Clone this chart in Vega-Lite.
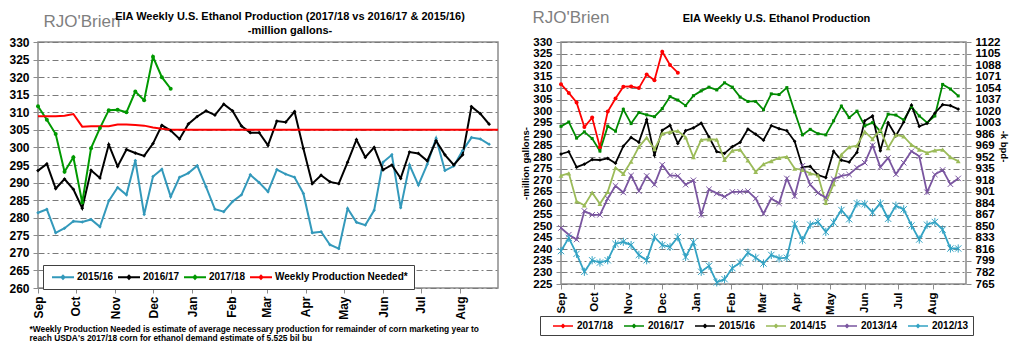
{
  "$schema": "https://vega.github.io/schema/vega-lite/v6.json",
  "background": "white",
  "padding": {"left": 8, "top": 7, "right": 0, "bottom": 0},
  "spacing": 17,
  "config": {
    "font": "Liberation Sans",
    "view": {"stroke": "#8c8c8c", "strokeWidth": 1.5},
    "axis": {"labelFont": "Liberation Sans", "labelFontWeight": "bold", "labelFontSize": 12, "labelColor": "#000", "titleFont": "Liberation Sans", "titleFontWeight": "bold", "titleFontSize": 9.5, "titleColor": "#000", "tickColor": "#8c8c8c", "domain": false, "labelFlush": false, "labelOverlap": false, "labelLimit": 400},
    "legend": {"labelFont": "Liberation Sans", "labelFontWeight": "bold", "labelFontSize": 10, "labelColor": "#000", "strokeColor": "#404040", "fillColor": "white", "cornerRadius": 0, "direction": "horizontal", "labelLimit": 300},
    "title": {"font": "Liberation Sans", "fontSize": 11, "fontWeight": "bold", "color": "#000", "anchor": "middle", "frame": "group"}
  },
  "datasets": {
    "w": [
      {"d": "2017-09-01", "2012/13": 239.3, "2013/14": 249.3, "2014/15": 272.0, "2015/16": 281.4, "2016/17": 293.4, "2017/18": 311.7, "Weekly Production Needed*": 308.9},
      {"d": "2017-09-08", "2012/13": 245.0, "2013/14": 246.4, "2014/15": 273.0, "2015/16": 282.4, "2016/17": 295.3, "2017/18": 307.9, "Weekly Production Needed*": 308.9},
      {"d": "2017-09-15", "2012/13": 238.1, "2013/14": 244.3, "2014/15": 260.9, "2015/16": 275.7, "2016/17": 288.3, "2017/18": 303.8, "Weekly Production Needed*": 308.9},
      {"d": "2017-09-22", "2012/13": 230.3, "2013/14": 256.7, "2014/15": 259.1, "2015/16": 277.0, "2016/17": 291.0, "2017/18": 293.1, "Weekly Production Needed*": 309.0},
      {"d": "2017-09-29", "2012/13": 235.3, "2013/14": 255.0, "2014/15": 264.6, "2015/16": 279.0, "2016/17": 288.1, "2017/18": 297.2, "Weekly Production Needed*": 309.5},
      {"d": "2017-10-06", "2012/13": 234.3, "2013/14": 255.0, "2014/15": 259.8, "2015/16": 278.8, "2016/17": 282.7, "2017/18": 284.3, "Weekly Production Needed*": 305.9},
      {"d": "2017-10-13", "2012/13": 235.3, "2013/14": 262.1, "2014/15": 265.0, "2015/16": 279.5, "2016/17": 293.5, "2017/18": 299.8, "Weekly Production Needed*": 306.0},
      {"d": "2017-10-20", "2012/13": 242.4, "2013/14": 267.6, "2014/15": 275.4, "2015/16": 277.4, "2016/17": 291.3, "2017/18": 305.5, "Weekly Production Needed*": 306.0},
      {"d": "2017-10-27", "2012/13": 243.3, "2013/14": 264.7, "2014/15": 272.8, "2015/16": 284.8, "2016/17": 300.8, "2017/18": 310.6, "Weekly Production Needed*": 306.0},
      {"d": "2017-11-03", "2012/13": 241.9, "2013/14": 272.1, "2014/15": 278.1, "2015/16": 288.6, "2016/17": 294.6, "2017/18": 310.7, "Weekly Production Needed*": 306.5},
      {"d": "2017-11-10", "2012/13": 237.6, "2013/14": 265.3, "2014/15": 284.5, "2015/16": 286.5, "2016/17": 299.4, "2017/18": 310.0, "Weekly Production Needed*": 306.5},
      {"d": "2017-11-17", "2012/13": 235.3, "2013/14": 271.9, "2014/15": 288.5, "2015/16": 296.3, "2016/17": 298.4, "2017/18": 315.9, "Weekly Production Needed*": 306.4},
      {"d": "2017-11-24", "2012/13": 245.3, "2013/14": 268.1, "2014/15": 283.5, "2015/16": 280.9, "2016/17": 297.6, "2017/18": 313.4, "Weekly Production Needed*": 306.2},
      {"d": "2017-12-01", "2012/13": 241.9, "2013/14": 276.7, "2014/15": 290.2, "2015/16": 291.7, "2016/17": 301.1, "2017/18": 325.8, "Weekly Production Needed*": 305.7},
      {"d": "2017-12-08", "2012/13": 241.1, "2013/14": 272.1, "2014/15": 291.0, "2015/16": 293.8, "2016/17": 306.3, "2017/18": 320.0, "Weekly Production Needed*": 305.3},
      {"d": "2017-12-15", "2012/13": 245.3, "2013/14": 271.9, "2014/15": 291.4, "2015/16": 286.0, "2016/17": 304.8, "2017/18": 316.7, "Weekly Production Needed*": 305.0},
      {"d": "2017-12-22", "2012/13": 236.7, "2013/14": 268.1, "2014/15": 288.6, "2015/16": 291.5, "2016/17": 302.4, "Weekly Production Needed*": 305.0},
      {"d": "2017-12-29", "2012/13": 243.1, "2013/14": 270.0, "2014/15": 280.0, "2015/16": 292.7, "2016/17": 306.7, "Weekly Production Needed*": 305.0},
      {"d": "2018-01-05", "2012/13": 230.3, "2013/14": 255.0, "2014/15": 287.5, "2015/16": 294.8, "2016/17": 308.8, "Weekly Production Needed*": 305.0},
      {"d": "2018-01-12", "2012/13": 232.9, "2013/14": 266.1, "2014/15": 287.8, "2015/16": 288.8, "2016/17": 310.4, "Weekly Production Needed*": 305.0},
      {"d": "2018-01-19", "2012/13": 225.7, "2013/14": 264.3, "2014/15": 287.6, "2015/16": 282.4, "2016/17": 309.2, "Weekly Production Needed*": 305.0},
      {"d": "2018-01-26", "2012/13": 227.1, "2013/14": 262.9, "2014/15": 278.8, "2015/16": 281.7, "2016/17": 312.3, "Weekly Production Needed*": 305.0},
      {"d": "2018-02-02", "2012/13": 231.9, "2013/14": 265.0, "2014/15": 282.9, "2015/16": 284.6, "2016/17": 310.4, "Weekly Production Needed*": 305.0},
      {"d": "2018-02-09", "2012/13": 234.3, "2013/14": 265.0, "2014/15": 283.3, "2015/16": 286.5, "2016/17": 306.1, "Weekly Production Needed*": 305.0},
      {"d": "2018-02-16", "2012/13": 238.6, "2013/14": 265.3, "2014/15": 278.6, "2015/16": 292.2, "2016/17": 304.2, "Weekly Production Needed*": 305.0},
      {"d": "2018-02-23", "2012/13": 236.4, "2013/14": 262.1, "2014/15": 273.7, "2015/16": 290.0, "2016/17": 304.2, "Weekly Production Needed*": 305.0},
      {"d": "2018-03-02", "2012/13": 233.9, "2013/14": 255.5, "2014/15": 277.0, "2015/16": 287.4, "2016/17": 300.6, "Weekly Production Needed*": 305.0},
      {"d": "2018-03-09", "2012/13": 237.6, "2013/14": 262.1, "2014/15": 278.3, "2015/16": 293.7, "2016/17": 307.5, "Weekly Production Needed*": 305.0},
      {"d": "2018-03-16", "2012/13": 236.1, "2013/14": 260.0, "2014/15": 279.7, "2015/16": 292.4, "2016/17": 307.2, "Weekly Production Needed*": 305.0},
      {"d": "2018-03-23", "2012/13": 236.4, "2013/14": 270.8, "2014/15": 280.2, "2015/16": 291.5, "2016/17": 310.2, "Weekly Production Needed*": 305.0},
      {"d": "2018-03-30", "2012/13": 251.0, "2013/14": 263.1, "2014/15": 275.1, "2015/16": 286.9, "2016/17": 299.7, "Weekly Production Needed*": 305.0},
      {"d": "2018-04-06", "2012/13": 244.0, "2013/14": 276.3, "2014/15": 274.5, "2015/16": 275.7, "2016/17": 289.7, "Weekly Production Needed*": 305.0},
      {"d": "2018-04-13", "2012/13": 250.7, "2013/14": 268.1, "2014/15": 273.0, "2015/16": 276.0, "2016/17": 292.1, "Weekly Production Needed*": 305.0},
      {"d": "2018-04-20", "2012/13": 251.9, "2013/14": 264.5, "2014/15": 272.1, "2015/16": 272.3, "2016/17": 290.2, "Weekly Production Needed*": 305.0},
      {"d": "2018-04-27", "2012/13": 247.6, "2013/14": 262.4, "2014/15": 260.2, "2015/16": 271.2, "2016/17": 289.7, "Weekly Production Needed*": 305.0},
      {"d": "2018-05-04", "2012/13": 251.7, "2013/14": 270.5, "2014/15": 268.3, "2015/16": 282.6, "2016/17": 295.8, "Weekly Production Needed*": 305.0},
      {"d": "2018-05-11", "2012/13": 257.1, "2013/14": 271.9, "2014/15": 281.1, "2015/16": 278.7, "2016/17": 302.2, "Weekly Production Needed*": 305.0},
      {"d": "2018-05-18", "2012/13": 253.1, "2013/14": 272.5, "2014/15": 284.4, "2015/16": 277.9, "2016/17": 297.2, "Weekly Production Needed*": 305.0},
      {"d": "2018-05-25", "2012/13": 260.0, "2013/14": 275.5, "2014/15": 285.0, "2015/16": 282.1, "2016/17": 300.0, "Weekly Production Needed*": 305.0},
      {"d": "2018-06-01", "2012/13": 259.7, "2013/14": 277.6, "2014/15": 291.1, "2015/16": 295.8, "2016/17": 293.6, "Weekly Production Needed*": 305.0},
      {"d": "2018-06-08", "2012/13": 256.1, "2013/14": 285.2, "2014/15": 287.9, "2015/16": 297.9, "2016/17": 295.0, "Weekly Production Needed*": 305.0},
      {"d": "2018-06-15", "2012/13": 260.0, "2013/14": 275.7, "2014/15": 291.9, "2015/16": 282.8, "2016/17": 291.2, "Weekly Production Needed*": 305.0},
      {"d": "2018-06-22", "2012/13": 253.3, "2013/14": 279.7, "2014/15": 284.0, "2015/16": 295.0, "2016/17": 298.7, "Weekly Production Needed*": 305.0},
      {"d": "2018-06-29", "2012/13": 259.0, "2013/14": 272.6, "2014/15": 289.7, "2015/16": 289.3, "2016/17": 298.3, "Weekly Production Needed*": 305.0},
      {"d": "2018-07-06", "2012/13": 257.4, "2013/14": 277.6, "2014/15": 289.0, "2015/16": 295.2, "2016/17": 296.2, "Weekly Production Needed*": 305.0},
      {"d": "2018-07-13", "2012/13": 250.4, "2013/14": 282.6, "2014/15": 285.4, "2015/16": 302.6, "2016/17": 301.9, "Weekly Production Needed*": 305.0},
      {"d": "2018-07-20", "2012/13": 244.3, "2013/14": 280.4, "2014/15": 283.3, "2015/16": 293.4, "2016/17": 297.9, "Weekly Production Needed*": 305.0},
      {"d": "2018-07-27", "2012/13": 250.7, "2013/14": 264.8, "2014/15": 281.9, "2015/16": 294.7, "2016/17": 295.0, "Weekly Production Needed*": 305.0},
      {"d": "2018-08-03", "2012/13": 251.9, "2013/14": 272.5, "2014/15": 283.0, "2015/16": 299.1, "2016/17": 297.9, "Weekly Production Needed*": 305.0},
      {"d": "2018-08-10", "2012/13": 248.6, "2013/14": 274.5, "2014/15": 283.3, "2015/16": 302.8, "2016/17": 311.6, "Weekly Production Needed*": 305.0},
      {"d": "2018-08-17", "2012/13": 240.4, "2013/14": 268.3, "2014/15": 280.0, "2015/16": 302.4, "2016/17": 309.6, "Weekly Production Needed*": 305.0},
      {"d": "2018-08-24", "2012/13": 240.4, "2013/14": 270.8, "2014/15": 278.3, "2015/16": 300.9, "2016/17": 306.6, "Weekly Production Needed*": 305.0},
      {"d": "2018-08-31", "Weekly Production Needed*": 305.0}
    ]
  },
  "hconcat": [
    {
      "width": 460,
      "height": 246,
      "title": {"text": ["EIA Weekly U.S. Ethanol Production (2017/18 vs 2016/17 & 2015/16)", "-million  gallons-"], "dx": 22, "dy": 30, "offset": 6, "lineHeight": 14},
      "data": {"name": "w"},
      "transform": [
        {"fold": ["2015/16", "2016/17", "2017/18", "Weekly Production Needed*"], "as": ["series", "value"]},
        {"filter": "isValid(datum.value)"}
      ],
      "encoding": {
        "x": {
          "field": "d", "type": "temporal",
          "scale": {"domain": [{"year": 2017, "month": 9, "date": 1}, {"year": 2018, "month": 8, "date": 31}]},
          "axis": {
            "values": [{"year": 2017, "month": 9, "date": 1}, {"year": 2017, "month": 10, "date": 1}, {"year": 2017, "month": 11, "date": 1}, {"year": 2017, "month": 12, "date": 1}, {"year": 2018, "month": 1, "date": 1}, {"year": 2018, "month": 2, "date": 1}, {"year": 2018, "month": 3, "date": 1}, {"year": 2018, "month": 4, "date": 1}, {"year": 2018, "month": 5, "date": 1}, {"year": 2018, "month": 6, "date": 1}, {"year": 2018, "month": 7, "date": 1}, {"year": 2018, "month": 8, "date": 1}],
            "format": "%b", "labelAngle": -90, "tickSize": 5, "labelPadding": 3, "grid": false,
            "title": ["*Weekly Production Needed is estimate of average necessary production for remainder of corn marketing year to", "reach USDA's 2017/18 corn for ethanol demand estimate of 5.525 bil bu"],
            "titleFontSize": 8.4, "titleAlign": "left", "titleAnchor": "start", "titleX": -9, "titleY": 36, "titleBaseline": "top", "titleLineHeight": 9.5
          }
        },
        "y": {
          "field": "value", "type": "quantitative",
          "scale": {"domain": [260, 330], "nice": false, "zero": false},
          "axis": {
            "values": [260, 265, 270, 275, 280, 285, 290, 295, 300, 305, 310, 315, 320, 325, 330],
            "grid": true, "gridDash": [6, 3, 2, 3], "gridColor": "#7a7a7a", "tickSize": 5, "labelPadding": 4,
            "title": "RJO'Brien", "titleAngle": 0, "titleX": 5, "titleY": -21, "titleAlign": "left", "titleBaseline": "middle", "titleFontSize": 17, "titleFontWeight": "normal", "titleColor": "#7f7f7f"
          }
        }
      },
      "layer": [
        {
          "mark": {"type": "line", "strokeWidth": 2},
          "encoding": {
            "color": {
              "field": "series", "type": "nominal",
              "scale": {"domain": ["2015/16", "2016/17", "2017/18", "Weekly Production Needed*"], "range": ["#3399bb", "#000000", "#009900", "#ff0000"]},
              "legend": {
                "title": null, "orient": "none", "legendX": 5, "legendY": 223, "direction": "horizontal",
                "padding": 6, "symbolSize": 100, "labelOffset": 16, "columnPadding": 0, "strokeColor": "#404040",
                "symbolType": "M-0.6,0H3.8M1.6,-0.3L1.9,0L1.6,0.3L1.3,0Z", "symbolStrokeWidth": 2
              }
            }
          }
        },
        {
          "transform": [{"filter": "datum.series !== 'Weekly Production Needed*'"}],
          "mark": {"type": "point", "filled": true, "opacity": 1},
          "encoding": {
            "fill": {"field": "series", "type": "nominal", "scale": {"domain": ["2015/16", "2016/17", "2017/18"], "range": ["#3399bb", "#000000", "#009900"]}, "legend": null},
            "shape": {"field": "series", "type": "nominal", "scale": {"domain": ["2015/16", "2016/17", "2017/18"], "range": ["diamond", "diamond", "circle"]}, "legend": null},
            "size": {"field": "series", "type": "nominal", "scale": {"domain": ["2015/16", "2016/17", "2017/18"], "range": [12, 16, 55]}, "legend": null}
          }
        }
      ]
    },
    {
      "width": 405,
      "height": 242,
      "title": {"text": "EIA Weekly U.S. Ethanol Production", "dx": 13, "dy": 22, "offset": 6},
      "data": {"name": "w"},
      "transform": [
        {"fold": ["2017/18", "2016/17", "2015/16", "2014/15", "2013/14", "2012/13"], "as": ["series", "value"]},
        {"filter": "isValid(datum.value)"}
      ],
      "layer": [
        {
          "encoding": {
            "x": {
              "field": "d", "type": "temporal",
              "scale": {"domain": [{"year": 2017, "month": 9, "date": 1}, {"year": 2018, "month": 8, "date": 31}]},
              "axis": {
                "values": [{"year": 2017, "month": 9, "date": 1}, {"year": 2017, "month": 10, "date": 1}, {"year": 2017, "month": 11, "date": 1}, {"year": 2017, "month": 12, "date": 1}, {"year": 2018, "month": 1, "date": 1}, {"year": 2018, "month": 2, "date": 1}, {"year": 2018, "month": 3, "date": 1}, {"year": 2018, "month": 4, "date": 1}, {"year": 2018, "month": 5, "date": 1}, {"year": 2018, "month": 6, "date": 1}, {"year": 2018, "month": 7, "date": 1}, {"year": 2018, "month": 8, "date": 1}],
                "format": "%b", "labelAngle": -90, "tickSize": 5, "labelPadding": 3, "grid": false, "labelFontSize": 11.5,
                "title": "RJO'Brien", "titleAngle": 0, "titleX": -29, "titleY": -267, "titleAlign": "left", "titleAnchor": "start", "titleBaseline": "middle", "titleFontSize": 17, "titleFontWeight": "normal", "titleColor": "#7f7f7f"
              }
            },
            "y": {
              "field": "value", "type": "quantitative",
              "scale": {"domain": [225, 330], "nice": false, "zero": false},
              "axis": {
                "values": [225, 230, 235, 240, 245, 250, 255, 260, 265, 270, 275, 280, 285, 290, 295, 300, 305, 310, 315, 320, 325, 330],
                "grid": true, "gridDash": [6, 3, 2, 3], "gridColor": "#7a7a7a", "tickSize": 5, "labelPadding": 4, "labelFontSize": 11.5,
                "title": "-million gallons-", "titlePadding": 2
              }
            }
          },
          "layer": [
            {
              "mark": {"type": "line", "strokeWidth": 1.8},
              "encoding": {
                "color": {
                  "field": "series", "type": "nominal",
                  "scale": {"domain": ["2017/18", "2016/17", "2015/16", "2014/15", "2013/14", "2012/13"], "range": ["#ff0000", "#008a00", "#000000", "#9bbb59", "#7a55a0", "#33a3c4"]},
                  "legend": {
                    "title": null, "orient": "none", "legendX": -21, "legendY": 274, "direction": "horizontal",
                    "padding": 4, "symbolSize": 100, "labelOffset": 21, "columnPadding": 1, "strokeColor": "#404040",
                    "symbolType": "M0.6,0H4.6M2.6,-0.3L2.9,0L2.6,0.3L2.3,0Z", "symbolStrokeWidth": 1.5
                  }
                }
              }
            },
            {"transform": [{"filter": "datum.series === '2017/18'"}], "mark": {"type": "point", "shape": "circle", "filled": true, "color": "#ff0000", "size": 16, "opacity": 1}},
            {"transform": [{"filter": "datum.series === '2016/17'"}], "mark": {"type": "point", "shape": "square", "filled": true, "color": "#008a00", "size": 9, "opacity": 1}},
            {"transform": [{"filter": "datum.series === '2015/16'"}], "mark": {"type": "point", "shape": "diamond", "filled": true, "color": "#000000", "size": 14, "opacity": 1}},
            {"transform": [{"filter": "datum.series === '2014/15'"}], "mark": {"type": "point", "shape": "triangle-up", "filled": true, "color": "#9bbb59", "size": 24, "opacity": 1}},
            {"transform": [{"filter": "datum.series === '2013/14'"}], "mark": {"type": "point", "shape": "M-1,-1L1,1M-1,1L1,-1", "filled": false, "color": "#7a55a0", "size": 30, "strokeWidth": 1, "opacity": 1}},
            {"transform": [{"filter": "datum.series === '2012/13'"}], "mark": {"type": "point", "shape": "M-1,-1L1,1M-1,1L1,-1M0,-1.3L0,1.3", "filled": false, "color": "#33a3c4", "size": 40, "strokeWidth": 1, "opacity": 1}}
          ]
        },
        {
          "mark": {"type": "rule", "opacity": 0},
          "encoding": {
            "y": {
              "datum": 765, "type": "quantitative",
              "scale": {"domain": [765, 1122], "nice": false, "zero": false},
              "axis": {
                "orient": "right", "format": "d",
                "values": [765, 782, 799, 816, 833, 850, 867, 884, 901, 918, 935, 952, 969, 986, 1003, 1020, 1037, 1054, 1071, 1088, 1105, 1122],
                "grid": false, "tickSize": 5, "labelPadding": 4, "labelFontSize": 11.5,
                "title": "-k bpd-", "titleAngle": 90, "titleX": 32, "titleY": 104
              }
            }
          }
        }
      ],
      "resolve": {"scale": {"y": "independent"}}
    }
  ],
  "resolve": {
    "scale": {"color": "independent", "fill": "independent", "shape": "independent", "size": "independent"},
    "legend": {"color": "independent"}
  }
}
